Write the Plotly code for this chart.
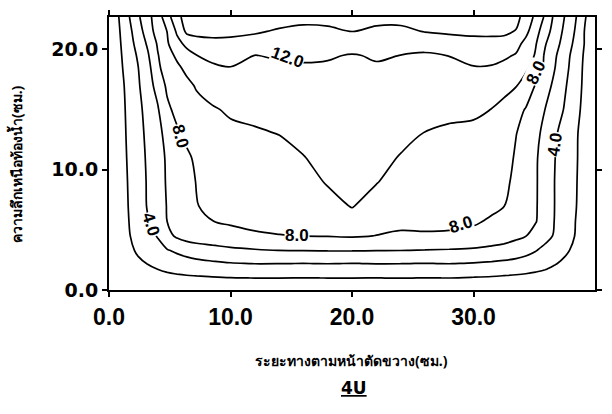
import plotly.graph_objects as go

# distance across section (cm) and depth above bed (cm)
x_cm = [0, 0.8, 1.6, 2.4, 3.2, 4.0, 4.8, 5.6, 6.4, 7.2, 8.5, 10, 12, 14, 16, 18, 20, 22, 24, 26,
        28, 30, 31.5, 32.5, 33.5, 34.3, 35.1, 35.9, 36.7, 37.5, 38.3, 39.1, 40]
y_cm = [0, 1, 2.2, 3.3, 4.5, 5.7, 7, 9, 11, 13, 15, 17, 18.5, 19.5, 20.5, 21.5, 22.7]

# velocity, one row per depth
v_y00 = [0] * 33
v_y01 = [0, 0.6, 0.9, 1.1, 1.25, 1.4, 1.5, 1.6, 1.7, 1.75, 1.85,
         1.95, 2.02, 2.03, 1.98, 2.01, 2.02, 1.99, 2.04, 1.98, 2.01, 1.9,
         1.8, 1.7, 1.6, 1.5, 1.35, 1.2, 1.05, 0.9, 0.7, 0.4, 0]
v_y02 = [0, 0.8, 1.3, 1.7, 2.05, 2.4, 2.8, 3.1, 3.3, 3.5, 3.7,
         3.9, 4.03, 4.02, 3.98, 4.03, 3.97, 4.04, 4.02, 3.97, 4.03, 3.9,
         3.75, 3.6, 3.4, 3.2, 2.95, 2.6, 2.1, 1.7, 1.3, 0.8, 0]
v_y03 = [0, 0.9, 1.6, 2.25, 2.9, 3.4, 3.9, 4.3, 4.7, 5.0, 5.3,
         5.6, 5.85, 6.02, 6.05, 6.1, 6.1, 6.05, 6.03, 5.95, 5.85, 5.7,
         5.5, 5.3, 5.0, 4.6, 4.1, 3.5, 2.9, 2.3, 1.7, 1.0, 0]
v_y04 = [0, 0.95, 1.85, 2.65, 3.4, 4.1, 5.45, 6.3, 6.8, 7.05, 7.25,
         7.6, 7.9, 7.97, 8.02, 8.08, 8.17, 7.97, 7.85, 7.9, 7.88, 7.7,
         7.1, 6.85, 6.4, 6.05, 5.4, 4.6, 3.8, 3.0, 2.03, 1.1, 0]
v_y05 = [0, 1.03, 1.95, 2.9, 3.9, 4.85, 6.03, 6.85, 7.3, 7.6, 7.98,
         8.15, 8.19, 8.25, 8.36, 8.68, 9.3, 8.56, 8.25, 8.22, 8.19, 8.14,
         7.85, 7.45, 7.1, 6.7, 6.1, 5.2, 3.9, 3.03, 2.1, 1.2, 0]
v_y07 = [0, 1.03, 2.03, 3.1, 4.15, 5.1, 6.1, 6.8, 7.35, 7.95, 8.3,
         8.42, 8.48, 8.56, 8.75, 9.37, 10.1, 9.23, 8.66, 8.53, 8.47, 8.41,
         8.23, 8.04, 7.35, 6.75, 6.15, 5.3, 3.95, 3.05, 2.2, 1.3, 0]
v_y09 = [0, 1.05, 2.1, 3.1, 4.2, 5.2, 6.2, 7.03, 7.55, 8.05, 8.5,
         8.83, 8.93, 9.04, 9.34, 10.15, 10.36, 10.09, 9.28, 9.01, 8.9, 8.83,
         8.68, 8.45, 7.55, 6.85, 6.17, 5.3, 3.95, 3.1, 2.25, 1.35, 0]
v_y11 = [0, 1.1, 2.2, 3.2, 4.3, 5.3, 6.25, 7.05, 7.7, 8.3, 8.85,
         9.25, 9.37, 9.52, 9.94, 10.51, 10.67, 10.46, 9.91, 9.48, 9.33, 9.26,
         9.13, 8.9, 7.75, 6.95, 6.2, 5.3, 4.03, 3.15, 2.3, 1.4, 0]
v_y13 = [0, 1.15, 2.3, 3.35, 4.45, 5.5, 6.55, 7.7, 8.4, 8.9, 9.25,
         9.67, 9.82, 10.03, 10.47, 10.88, 10.97, 10.83, 10.41, 9.95, 9.76, 9.68,
         9.45, 8.95, 8.05, 7.3, 6.45, 5.5, 4.25, 3.25, 2.35, 1.4, 0]
v_y15 = [0, 1.2, 2.4, 3.5, 4.7, 5.8, 7.6, 8.55, 9.05, 9.45, 9.85,
         10.2, 10.41, 10.63, 10.99, 11.25, 11.27, 11.2, 10.89, 10.54, 10.33, 10.24,
         9.97, 9.3, 8.55, 7.9, 6.95, 5.97, 5.03, 3.85, 2.7, 1.55, 0]
v_y17 = [0, 1.3, 2.55, 3.75, 5.25, 6.6, 8.4, 9.1, 9.6, 10.15, 10.65,
         11.2, 11.1, 11.27, 11.51, 11.61, 11.58, 11.57, 11.37, 11.13, 11.07, 11.19,
         11.08, 10.74, 10.1, 9.1, 7.9, 6.75, 5.55, 4.25, 2.95, 1.7, 0]
v_y185 = [0, 1.5, 2.75, 3.97, 5.4, 7.5, 9.2, 9.7, 10.4, 11.03, 11.7,
          11.95, 11.62, 11.75, 11.8, 11.8, 11.8, 11.85, 11.73, 11.58, 11.63, 11.9,
          11.85, 11.55, 11.03, 10.4, 9.2, 7.6, 6.03, 4.6, 3.2, 1.75, 0]
v_y195 = [0, 1.6, 2.9, 4.25, 5.8, 7.85, 9.4, 10.3, 11.3, 11.97, 12.5,
          12.75, 11.97, 12.16, 12.3, 12.15, 11.9, 12.15, 11.98, 11.8, 12.03, 12.67,
          12.62, 12.3, 11.85, 11.3, 9.8, 7.7, 6.25, 4.8, 3.35, 1.85, 0]
v_y205 = [0, 1.7, 3.1, 4.75, 6.3, 8.2, 9.8, 11.4, 12.5, 13.3, 13.55,
          13.58, 13.13, 12.96, 12.97, 12.97, 12.82, 12.89, 12.75, 12.6, 13.18, 13.5,
          13.51, 13.41, 12.6, 11.5, 10.2, 8.15, 6.7, 5.3, 3.7, 2.03, 0]
v_y215 = [0, 1.8, 3.4, 5.1, 7.0, 8.8, 10.05, 12.3, 14.4, 14.5, 14.5,
          14.38, 14.24, 13.76, 13.58, 13.66, 14.03, 13.63, 13.58, 14.08, 14.26, 14.33,
          14.35, 14.33, 13.9, 12.5, 10.8, 8.8, 7.2, 5.6, 4.03, 2.05, 0]
v_y227 = [0, 1.98, 3.8, 5.7, 7.4, 9.0, 11.2, 13.5, 14.7, 15.0, 15.2,
          15.3, 15.2, 14.9, 14.5, 14.6, 15.0, 14.6, 14.6, 15.1, 15.3, 15.3,
          15.3, 15.2, 14.6, 13.2, 11.6, 9.7, 7.5, 5.97, 4.4, 2.4, 0]

z = [v_y00, v_y01, v_y02, v_y03, v_y04, v_y05, v_y07, v_y09, v_y11, v_y13,
     v_y15, v_y17, v_y185, v_y195, v_y205, v_y215, v_y227]

# isoline labels: text, and where they sit
label_text = ["12.0", "8.0", "4.0", "8.0", "8.0", "8.0", "4.0"]
label_pos = [(14.7, 19.35, 20), (5.9, 12.8, 75), (3.45, 5.45, 72), (15.5, 4.55, 0),
             (29.0, 5.45, -18), (35.15, 18.1, -65), (36.7, 12.1, -82)]

x_ticks = [0, 10, 20, 30]
y_ticks = [0, 10, 20]

fig = go.Figure()
fig.add_trace(go.Contour(
    x=x_cm, y=y_cm, z=z,
    contours=dict(start=2, end=14, size=2, coloring="none", showlabels=False),
    line=dict(color="black", width=1.7, smoothing=1.0),
    showscale=False, hoverinfo="skip",
))

lab_font = dict(family="Liberation Sans, Arial, sans-serif", size=17, color="black", weight="bold")
annotations = []
for t, (lx, ly, ang) in zip(label_text, label_pos):
    annotations.append(dict(x=lx, y=ly, xref="x", yref="y", text=t, showarrow=False,
                            textangle=ang, font=lab_font, bgcolor="white", borderpad=0))

thai_font = dict(family="Noto Sans, DejaVu Sans, sans-serif", size=14, color="black", weight="bold")
annotations.append(dict(x=-0.19, y=0.46, xref="paper", yref="paper",
                        xanchor="center", yanchor="middle",
                        text="ความลึกเหนือท้องน้ำ(ซม.)", textangle=-90, showarrow=False,
                        font=thai_font))
annotations.append(dict(x=0.498, y=-0.257, xref="paper", yref="paper",
                        xanchor="center", yanchor="middle",
                        text="ระยะทางตามหน้าตัดขวาง(ซม.)", showarrow=False,
                        font=thai_font))
annotations.append(dict(x=0.505, y=-0.36, xref="paper", yref="paper",
                        xanchor="center", yanchor="middle",
                        text="<u>4U</u>", showarrow=False,
                        font=dict(family="DejaVu Sans, sans-serif", size=17,
                                  color="black", weight="bold")))

fig.update_layout(
    width=612, height=414,
    margin=dict(l=109, r=10, t=10, b=124),
    paper_bgcolor="white", plot_bgcolor="white",
    showlegend=False,
    annotations=annotations,
    xaxis=dict(range=[0, 40], tickvals=x_ticks, tickformat=".1f",
               ticks="outside", ticklen=5, tickwidth=1.5, tickcolor="black",
               showline=True, linecolor="black", linewidth=2, mirror="ticks",
               showgrid=False, zeroline=False,
               tickfont=dict(family="Liberation Sans, Arial, sans-serif", size=23,
                             color="black", weight="bold")),
    yaxis=dict(range=[0, 22.7], tickvals=y_ticks, tickformat=".1f",
               ticks="outside", ticklen=5, tickwidth=1.5, tickcolor="black",
               showline=True, linecolor="black", linewidth=2, mirror="ticks",
               showgrid=False, zeroline=False,
               tickfont=dict(family="DejaVu Sans, sans-serif", size=19,
                             color="black", weight="bold")),
)

fig.write_html("out.html")
